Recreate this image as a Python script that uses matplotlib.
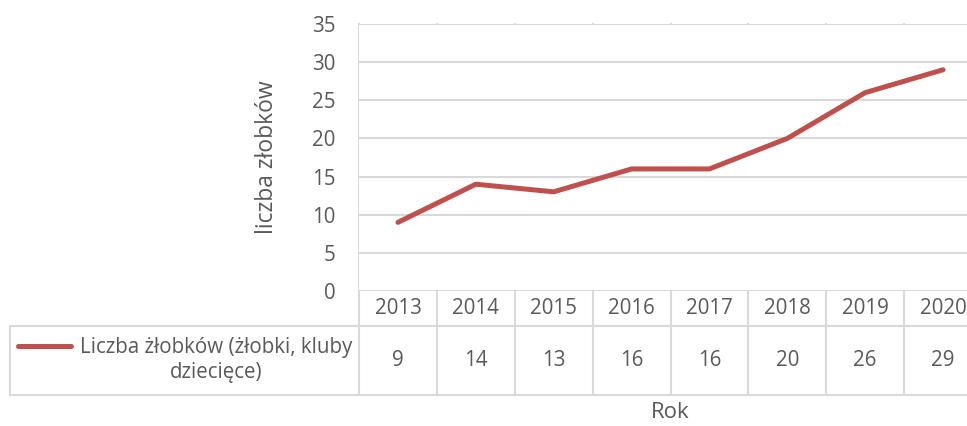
import matplotlib.pyplot as plt
from matplotlib.lines import Line2D
from matplotlib.transforms import blended_transform_factory

lata = ['2013', '2014', '2015', '2016', '2017', '2018', '2019', '2020']
liczba = [9, 14, 13, 16, 16, 20, 26, 29]
seria = 'Liczba żłobków (żłobki, kluby\ndziecięce)'

plt.rcParams['font.family'] = ['Open Sans', 'DejaVu Sans']
txt = '#595959'
siatka = '#D9D9D9'
kolor = '#C0504D'
fs = 14.8

W, H = 967, 426
fig = plt.figure(figsize=(W / 100, H / 100), dpi=100)

# plot area in pixels: left 359, right ~982 (cut off), top 24, bottom 291
ax = fig.add_axes([359 / W, 1 - 291 / H, (982 - 359) / W, (291 - 24) / H])
x = list(range(len(lata)))
ax.plot(x, liczba, color=kolor, lw=3.6, solid_capstyle='round', zorder=3)
ax.set_xlim(-0.5, len(lata) - 0.5)
ax.set_ylim(0, 35)
ax.set_yticks(range(0, 36, 5))
ax.tick_params(axis='y', length=0, pad=17, labelsize=fs, labelcolor=txt)
ax.set_xticks([])
for s in ax.spines.values():
    s.set_visible(False)
ax.grid(axis='y', color=siatka, lw=1.5)
ax.set_ylabel('liczba złobków', fontsize=16.5, color=txt, labelpad=24)

tr = blended_transform_factory(ax.transData, fig.transFigure)
fy = lambda py: 1 - py / H

# vertical boundaries through plot and table
for b in [i - 0.5 for i in range(len(lata) + 1)]:
    fig.add_artist(Line2D([b, b], [fy(24), fy(395)], transform=tr, color=siatka, lw=1.5, zorder=0))

# horizontal table lines
x_lewo = 10 / W
fig.add_artist(Line2D([x_lewo, 1.02], [fy(326), fy(326)], transform=fig.transFigure, color=siatka, lw=1.5))
fig.add_artist(Line2D([x_lewo, 1.02], [fy(395), fy(395)], transform=fig.transFigure, color=siatka, lw=1.5))
fig.add_artist(Line2D([x_lewo, x_lewo], [fy(326), fy(395)], transform=fig.transFigure, color=siatka, lw=1.5))

for i, (r, v) in enumerate(zip(lata, liczba)):
    fig.text(i, fy(308), r, transform=tr, ha='center', va='center', fontsize=fs, color=txt)
    fig.text(i, fy(361), str(v), transform=tr, ha='center', va='center', fontsize=fs, color=txt)

# legend key + series name
fig.add_artist(Line2D([18 / W, 71 / W], [fy(346), fy(346)], transform=fig.transFigure,
                      color=kolor, lw=3.6, solid_capstyle='round'))
fig.text(216 / W, fy(360), seria, ha='center', va='center', multialignment='center',
         fontsize=fs, color=txt, linespacing=1.2)

fig.text(670 / W, fy(413), 'Rok', ha='center', va='center', fontsize=16, color=txt)

fig.savefig('out.png', dpi=100, facecolor='white')
